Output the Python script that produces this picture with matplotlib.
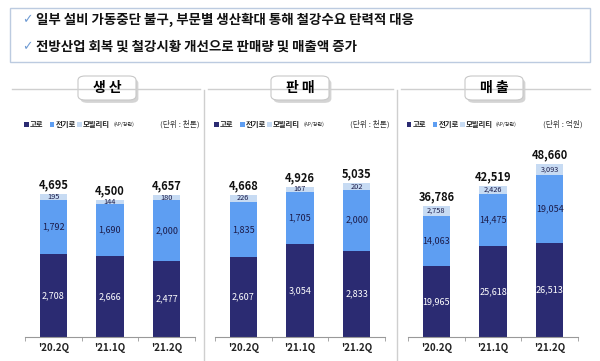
import matplotlib
matplotlib.use('Agg')
import matplotlib.pyplot as plt
from matplotlib.patches import FancyBboxPatch, Rectangle
from matplotlib.lines import Line2D

plt.rcParams['font.family'] = ['Noto Sans CJK KR', 'DejaVu Sans']

quarters = ["'20.2Q", "'21.1Q", "'21.2Q"]
series_names = ['고로', '전기로', '모빌리티']

# 생산 (천톤)
prod_blast = [2708, 2666, 2477]
prod_electric = [1792, 1690, 2000]
prod_mobility = [195, 144, 180]
prod_total = [4695, 4500, 4657]

# 판매 (천톤)
sales_blast = [2607, 3054, 2833]
sales_electric = [1835, 1705, 2000]
sales_mobility = [226, 167, 202]
sales_total = [4668, 4926, 5035]

# 매출 (억원)
rev_blast = [19965, 25618, 26513]
rev_electric = [14063, 14475, 19054]
rev_mobility = [2758, 2426, 3093]
rev_total = [36786, 42519, 48660]

headlines = ['일부 설비 가동중단 불구, 부문별 생산확대 통해 철강수요 탄력적 대응',
             '전방산업 회복 및 철강시황 개선으로 판매량 및 매출액 증가']

NAVY = '#2b2b72'
BLUE = '#5e9ef2'
LIGHT = '#c7dbf3'
W, H = 600, 361

fig = plt.figure(figsize=(6, 3.61), dpi=100)


def fx(px):
    return px / W


def fy(py):
    return 1 - py / H


# headline box
fig.patches.append(Rectangle((fx(10), fy(62)), fx(580), 54 / H, transform=fig.transFigure,
                             fill=False, edgecolor='#bccbe0', linewidth=1))
for i, line in enumerate(headlines):
    y = 20 + i * 27
    fig.text(fx(22), fy(y), '✓', color='#6f9bd3', fontsize=9, va='center', family='DejaVu Sans')
    fig.text(fx(36), fy(y), line, fontsize=9.7, fontweight='bold', va='center', color='#111111')

# separators
for x in [204, 397]:
    fig.add_artist(Line2D([fx(x), fx(x)], [fy(90), fy(361)], color='#cfcfcf', lw=1))

panels = [
    ('생 산', '(단위 : 천톤)', prod_blast, prod_electric, prod_mobility, prod_total, 25, 6131, 12, 200, 107),
    ('판 매', '(단위 : 천톤)', sales_blast, sales_electric, sales_mobility, sales_total, 215, 6131, 208, 393, 300),
    ('매 출', '(단위 : 억원)', rev_blast, rev_electric, rev_mobility, rev_total, 408, 52600, 401, 590, 494),
]

for title, unit, blast, elec, mob, total, left, ymax, l0, l1, tc in panels:
    # header line and title box
    fig.add_artist(Line2D([fx(l0), fx(l1)], [fy(89), fy(89)], color='#cfcfcf', lw=1))
    shadow = FancyBboxPatch((fx(tc - 29) + 0.004, fy(100) - 0.008), fx(58), 24 / H,
                            boxstyle='round,pad=0,rounding_size=0.012', transform=fig.transFigure,
                            facecolor='#b8b8b8', edgecolor='none', alpha=0.6)
    box = FancyBboxPatch((fx(tc - 29), fy(100)), fx(58), 24 / H,
                         boxstyle='round,pad=0,rounding_size=0.012', transform=fig.transFigure,
                         facecolor='white', edgecolor='#c8c8c8', lw=0.8)
    fig.patches.extend([shadow, box])
    fig.text(fx(tc), fy(88), title, ha='center', va='center', fontsize=10, fontweight='bold')

    # legend
    lx = left - 1
    for name, col, dx in [(series_names[0], NAVY, 0), (series_names[1], BLUE, 26), (series_names[2], LIGHT, 53)]:
        fig.patches.append(Rectangle((fx(lx + dx), fy(126.5)), fx(4.5), 4.5 / H, transform=fig.transFigure,
                                     facecolor=col, edgecolor='none'))
        fig.text(fx(lx + dx + 5.5), fy(124.5), name, fontsize=5.3, fontweight='bold', va='center', color='#222222')
    fig.text(fx(lx + 89), fy(124.5), '(AP/강관)', fontsize=3.6, va='center', color='#222222')
    fig.text(fx(left + 175), fy(124.5), unit, fontsize=5.6, ha='right', va='center', color='#333333')

    ax = fig.add_axes([fx(left), fy(337), fx(170), 187 / H])
    x = range(len(quarters))
    bottom2 = [a + b for a, b in zip(blast, elec)]
    ax.bar(x, blast, width=0.48, color=NAVY)
    ax.bar(x, elec, width=0.48, bottom=blast, color=BLUE)
    ax.bar(x, mob, width=0.48, bottom=bottom2, color=LIGHT)
    for i in x:
        ax.text(i, blast[i] / 2, f'{blast[i]:,}', ha='center', va='center', color='white', fontsize=6.5)
        ax.text(i, blast[i] + elec[i] / 2, f'{elec[i]:,}', ha='center', va='center', color='#1c1c4a', fontsize=6.5)
        ax.text(i, bottom2[i] + mob[i] / 2, f'{mob[i]:,}', ha='center', va='center', color='#1c1c4a', fontsize=5.3)
        ax.annotate(f'{total[i]:,}', (i, total[i]), xytext=(0, 2), textcoords='offset points',
                    ha='center', va='bottom', color='#111111', fontsize=8, fontweight='bold')
    ax.set_xlim(-0.5, 2.5)
    ax.set_ylim(0, ymax)
    for s in ['top', 'right', 'left']:
        ax.spines[s].set_visible(False)
    ax.spines['bottom'].set_color('#999999')
    ax.set_yticks([])
    ax.set_xticks(list(x))
    ax.set_xticklabels(quarters, fontsize=7, fontweight='bold', color='#222222')
    ax.tick_params(axis='x', length=0, pad=4)
    ax.set_xticks([-0.5, 0.5, 1.5, 2.5], minor=True)
    ax.tick_params(axis='x', which='minor', length=3, color='#999999')
    ax.patch.set_alpha(0)

fig.savefig('out.png', dpi=100)
